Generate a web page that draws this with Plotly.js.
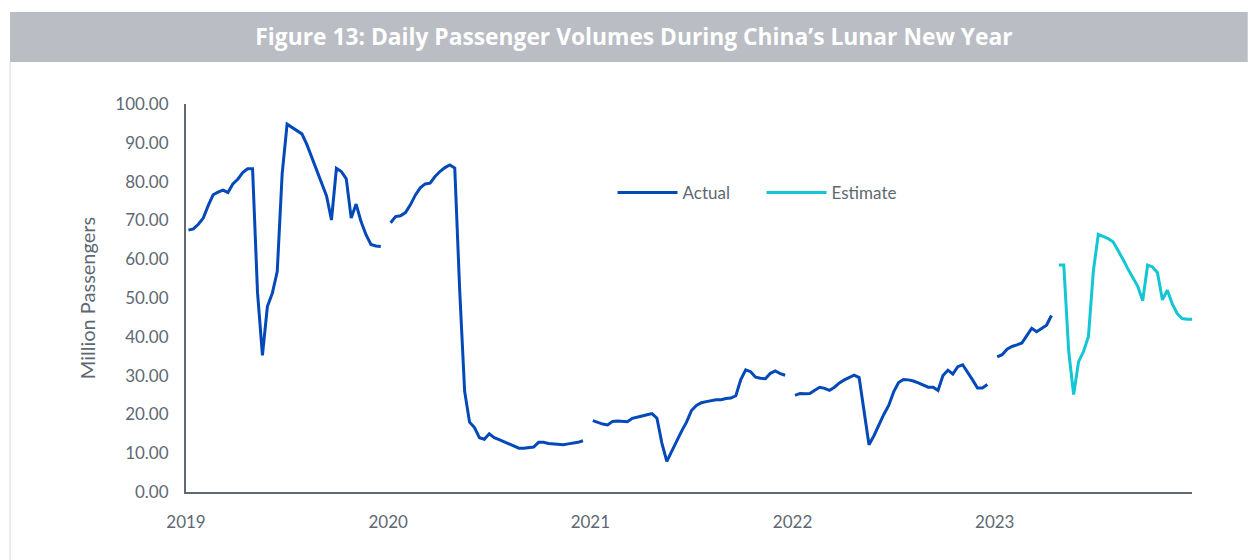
<!DOCTYPE html>
<html>
<head>
<meta charset="utf-8">
<script src="https://cdn.plot.ly/plotly-3.0.1.min.js"></script>
<style>
  html, body { margin: 0; padding: 0; background: #ffffff; }
  #plot { width: 1248px; height: 560px; }
</style>
</head>
<body>
<div id="plot"></div>
<script>
// Lunar New Year travel window, 40 days per year (millions of passengers)
var years = ["2019", "2020", "2021", "2022", "2023"];
var daysPerYear = 40;

var actual2019 = [67.5, 67.8, 69.0, 70.6, 73.8, 76.6, 77.3, 77.8, 77.2, 79.4,
  80.6, 82.3, 83.3, 83.3, 51.5, 35.2, 47.8, 51.2, 56.8, 82.0,
  94.8, 94.0, 93.3, 92.3, 89.6, 86.3, 83.0, 79.7, 76.3, 70.1,
  83.4, 82.6, 80.7, 70.6, 74.2, 69.7, 66.3, 63.8, 63.4, 63.3];
var actual2020 = [69.4, 71.0, 71.2, 72.0, 74.0, 76.5, 78.4, 79.4, 79.6, 81.3,
  82.6, 83.6, 84.3, 83.5, 52.0, 26.0, 18.0, 16.6, 14.0, 13.6,
  15.0, 14.0, 13.5, 12.9, 12.3, 11.7, 11.3, 11.3, 11.5, 11.6,
  12.8, 12.8, 12.5, 12.4, 12.3, 12.2, 12.4, 12.6, 12.8, 13.2];
var actual2021 = [18.4, 17.9, 17.5, 17.3, 18.2, 18.3, 18.2, 18.1, 19.0, 19.4,
  19.6, 19.9, 20.2, 19.0, 12.6, 7.9, 10.5, 13.5, 15.7, 18.0,
  21.0, 22.3, 23.0, 23.3, 23.5, 23.8, 23.8, 24.1, 24.2, 24.8,
  29.0, 31.5, 31.0, 29.6, 29.3, 29.2, 30.6, 31.2, 30.5, 30.1];
var actual2022 = [24.9, 25.4, 25.3, 25.4, 26.2, 27.0, 26.7, 26.2, 27.0, 28.1,
  28.9, 29.5, 30.1, 29.5, 21.0, 12.2, 14.5, 17.3, 20.0, 22.3,
  25.8, 28.2, 29.0, 28.9, 28.6, 28.1, 27.6, 27.0, 27.0, 26.2,
  30.0, 31.4, 30.4, 32.3, 32.8, 31.0, 28.9, 26.8, 26.8, 27.7];
var actual2023 = [34.8, 35.4, 36.8, 37.5, 37.9, 38.4, 40.3, 42.2, 41.3, 42.2,
  43.0, 45.5];
var estimate2023 = [58.5, 58.5, 36.2, 25.1, 33.6, 36.2, 40.1, 57.0, 66.4, 65.9,
  65.3, 64.5, 62.4, 60.0, 57.5, 55.2, 53.0, 49.3, 58.5, 58.0,
  56.5, 49.5, 52.0, 48.5, 46.0, 44.7, 44.5, 44.5];

var actualByYear = [actual2019, actual2020, actual2021, actual2022, actual2023];

// each year takes 40 day slots plus one empty slot
var slot = daysPerYear + 1;
var actX = [], actY = [];
actualByYear.forEach(function (vals, yi) {
  vals.forEach(function (v, d) {
    actX.push(yi * slot + d);
    actY.push(v);
  });
  actX.push(yi * slot + vals.length);
  actY.push(null);
});

var estStart = 4 * slot + (daysPerYear - estimate2023.length) + 0.5;
var estX = estimate2023.map(function (v, d) { return estStart + d; });

var trace1 = {
  x: actX,
  y: actY,
  name: "Actual",
  mode: "lines",
  type: "scatter",
  connectgaps: false,
  line: { color: "#0349b8", width: 3 }
};

var trace2 = {
  x: estX,
  y: estimate2023,
  name: "Estimate",
  mode: "lines",
  type: "scatter",
  line: { color: "#12c6d4", width: 3 }
};

var tickPos = years.map(function (y, i) { return i * slot - 0.5; });

var layout = {
  width: 1248,
  height: 560,
  margin: { l: 186, r: 56, t: 104, b: 68 },
  paper_bgcolor: "#ffffff",
  plot_bgcolor: "#ffffff",
  font: { family: "Lato, 'Noto Sans', sans-serif", color: "#5d6873", size: 17 },
  title: {
    text: "Figure 13: Daily Passenger Volumes During China\u2019s Lunar New Year",
    font: { family: "'Open Sans', 'Noto Sans', sans-serif", size: 22.8, weight: 700, color: "#ffffff" },
    xref: "container", x: 0.508, xanchor: "center",
    yref: "container", y: 0.934, yanchor: "middle"
  },
  showlegend: true,
  legend: {
    orientation: "h",
    x: 0.424, xanchor: "left",
    y: 0.771, yanchor: "middle",
    itemwidth: 60,
    entrywidth: 74, entrywidthmode: "pixels",
    font: { size: 17, color: "#5d6873" },
    bgcolor: "rgba(0,0,0,0)"
  },
  xaxis: {
    range: [-0.5, 203.5],
    tickmode: "array",
    tickvals: tickPos,
    ticktext: years,
    showgrid: false,
    zeroline: false,
    showline: true,
    linecolor: "#5f6a74",
    linewidth: 2,
    ticks: "",
    ticklabelstandoff: 14,
    tickfont: { size: 17, color: "#5d6873" }
  },
  yaxis: {
    range: [0, 100],
    tickvals: [0, 10, 20, 30, 40, 50, 60, 70, 80, 90, 100],
    tickformat: ".2f",
    showgrid: false,
    zeroline: false,
    showline: true,
    linecolor: "#5f6a74",
    linewidth: 2,
    ticks: "",
    ticklabelstandoff: 12,
    tickfont: { size: 17, color: "#5d6873" },
    title: { text: "Million Passengers", standoff: 14, font: { size: 20, color: "#5d6873" } }
  },
  shapes: [
    // grey header band
    { type: "rect", xref: "paper", yref: "paper", layer: "below",
      x0: -0.1749, x1: 1.0554, y0: 1.1083, y1: 1.2370,
      fillcolor: "#babdc4", line: { width: 0 } },
    // thin frame line down the left side
    { type: "line", xref: "paper", yref: "paper",
      x0: -0.1749, x1: -0.1749, y0: 1.1083, y1: -0.18,
      line: { color: "#d3d6db", width: 1 } }
  ]
};

Plotly.newPlot("plot", [trace1, trace2], layout, { displayModeBar: false, staticPlot: true });
</script>
</body>
</html>
